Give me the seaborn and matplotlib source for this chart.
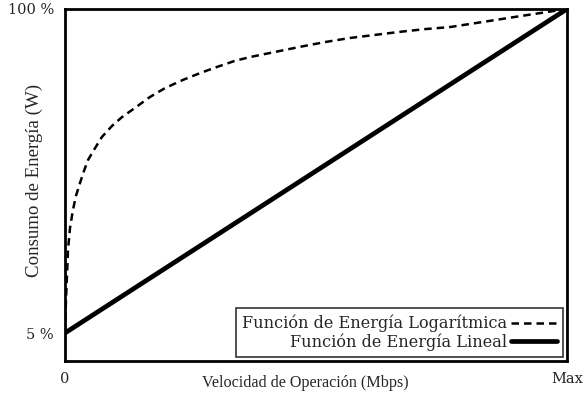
import matplotlib
matplotlib.use("Agg")
import matplotlib.pyplot as plt
import seaborn as sns
import pandas as pd

# Data (percent of max speed, percent of energy)
log_x = [0, 0.2, 0.4, 0.6, 1.0, 1.59, 2.19, 2.99, 3.78, 4.58, 5.98, 7.37, 9.36,
         11.35, 13.94, 16.93, 19.92, 23.5, 26.89, 30.28, 33.86, 36.85, 41.83,
         46.81, 51.79, 56.77, 61.75, 66.73, 71.71, 76.69, 83.27, 90.64, 100]
log_y = [5, 14.7, 22.0, 29.3, 35.8, 41.1, 45.2, 49.0, 52.5, 55.7, 59.2, 62.5, 65.7,
         68.3, 71.0, 74.2, 76.8, 79.2, 81.2, 83.0, 84.8, 85.9, 87.4,
         88.9, 90.3, 91.5, 92.4, 93.3, 94.1, 94.7, 96.2, 97.9, 100]
lin_x = [0, 100]
lin_y = [5, 100]
series_names = ["Función de Energía Logarítmica", "Función de Energía Lineal"]
xtick_labels = ["0", "Max"]
ytick_labels = ["5 %", "100 %"]

sns.set_style("white")
plt.rcParams["font.family"] = ["DejaVu Serif"]

df = pd.concat([
    pd.DataFrame({"x": log_x, "y": log_y, "serie": series_names[0]}),
    pd.DataFrame({"x": lin_x, "y": lin_y, "serie": series_names[1]}),
])

fig = plt.figure(figsize=(5.87, 4.01), dpi=100)
ax = fig.add_axes([0.1107, 0.0998, 0.8552, 0.8778])

sns.lineplot(data=df, x="x", y="y", hue="serie", style="serie",
             palette=["black", "black"], dashes={series_names[0]: (3, 2), series_names[1]: ""},
             ax=ax, sort=False, estimator=None, legend=False)
lines = ax.get_lines()
lines[0].set_linewidth(1.8)
lines[1].set_linewidth(3.4)
for ln in lines:
    ln.set_solid_joinstyle("round")
    ln.set_dash_joinstyle("round")

ax.set_xlim(0, 100)
ax.set_ylim(-3.2, 100)
ax.set_xticks([0, 100])
ax.set_xticklabels(xtick_labels, fontsize=10.5)
ax.set_yticks([5, 100])
ax.set_yticklabels(ytick_labels, fontsize=10.5)
ax.tick_params(length=0, pad=8)
ax.set_xlabel("Velocidad de Operación (Mbps)", fontsize=11.6, family="Liberation Serif")
ax.xaxis.set_label_coords(0.478, -0.04)
ax.set_ylabel("Consumo de Energía (W)", fontsize=13.6, family="Liberation Serif")
ax.yaxis.set_label_coords(-0.043, 0.514)
for s in ax.spines.values():
    s.set_color("black")
    s.set_linewidth(2)

leg = ax.legend(lines, series_names, loc="lower right", markerfirst=False,
                fontsize=11.6, frameon=True, fancybox=False, handlelength=2.8,
                borderaxespad=0.25, labelspacing=0.05, handletextpad=0.25,
                borderpad=0.4)
leg.get_frame().set_edgecolor("black")
leg.get_frame().set_linewidth(1.2)
for t in leg.get_texts():
    t.set_ha("right")

fig.savefig("out.png", dpi=100)
